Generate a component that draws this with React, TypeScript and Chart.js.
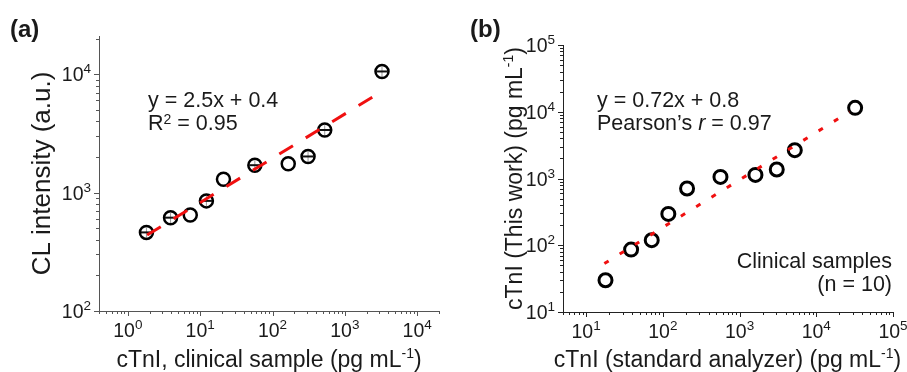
import { useEffect, useRef } from "react";
import { Chart, registerables } from "chart.js";

Chart.register(...registerables);

const FONT = '"Liberation Sans", Arial, Helvetica, sans-serif';

// ---------- Panel (a) data ----------
const aX = [1.81, 3.9, 7.3, 12.2, 21, 57, 165, 310, 527, 3260];
const aY = [461, 614, 647, 851, 1297, 1703, 1750, 2018, 3377, 10540];
const aErr = [0.1, 0.1, 0, 0.1, 0, 0.1, 0, 0.1, 0.1, 0.1];
const aFitX = [1.85, 3260];
const aFitY = [438, 7180];
const aXExp = [0, 1, 2, 3, 4];
const aYExp = [2, 3, 4];

// ---------- Panel (b) data ----------
const bX = [17.9, 38.6, 71.7, 118, 207, 564, 1611, 3055, 5250, 32100];
const bY = [29.9, 86, 119, 295, 708, 1057, 1132, 1364, 2656, 11440];
const bErr = [0, 0, 0, 0, 0, 0, 0, 0, 0, 0];
const bFitX = [17.3, 27100];
const bFitY = [53.2, 10000];
const bXExp = [1, 2, 3, 4, 5];
const bYExp = [1, 2, 3, 4, 5];

type Run = { t: string; font: string; dy?: number };
type TextItem = { runs: Run[]; x: number; y: number; align: "left" | "center" | "right"; rotate?: boolean };

const f = (px: number, style = "") => `${style}${px}px ${FONT}`;

function runsWidth(ctx: CanvasRenderingContext2D, runs: Run[]) {
  let w = 0;
  for (const r of runs) {
    ctx.font = r.font;
    w += ctx.measureText(r.t).width;
  }
  return w;
}

function drawRuns(ctx: CanvasRenderingContext2D, runs: Run[], x: number, y: number, align: string) {
  const w = runsWidth(ctx, runs);
  let cx = align === "center" ? x - w / 2 : align === "right" ? x - w : x;
  ctx.textAlign = "left";
  ctx.textBaseline = "alphabetic";
  for (const r of runs) {
    ctx.font = r.font;
    ctx.fillText(r.t, cx, y - (r.dy || 0));
    cx += ctx.measureText(r.t).width;
  }
}

interface Panel {
  xs: number[];
  ys: number[];
  err: number[];
  fitX: number[];
  fitY: number[];
  xExp: number[];
  yExp: number[];
  xMin: number;
  xMax: number;
  yMin: number;
  yMax: number;
  yAxisW: number;
  xAxisH: number;
  padTop: number;
  padRight: number;
  axisColor: string;
  markerBorder: number;
  dash: number[];
  texts: TextItem[];
}

const TXT = "#1a1a1a";

function makeConfig(p: Panel): any {
  const plugin = {
    id: "decor",
    beforeDatasetsDraw(chart: any) {
      const ctx: CanvasRenderingContext2D = chart.ctx;
      const xs = chart.scales.x;
      const ys = chart.scales.y;
      ctx.save();
      p.err.forEach((e, i) => {
        if (!e) return;
        const px = xs.getPixelForValue(p.xs[i]);
        const py = ys.getPixelForValue(p.ys[i]);
        const t = ys.getPixelForValue(p.ys[i] * (1 + e));
        const b = ys.getPixelForValue(p.ys[i] * (1 - e));
        ctx.strokeStyle = "#999";
        ctx.lineWidth = 1;
        ctx.beginPath();
        ctx.moveTo(px, t);
        ctx.lineTo(px, b);
        ctx.stroke();
        ctx.strokeStyle = "#111";
        ctx.lineWidth = 2;
        ctx.beginPath();
        ctx.moveTo(px - 5.5, py);
        ctx.lineTo(px + 5.5, py);
        ctx.stroke();
      });
      ctx.restore();
    },
    afterDraw(chart: any) {
      const ctx: CanvasRenderingContext2D = chart.ctx;
      const xs = chart.scales.x;
      const ys = chart.scales.y;
      const area = chart.chartArea;
      ctx.save();
      ctx.strokeStyle = p.axisColor;
      ctx.lineWidth = 1;
      // x ticks
      const ex0 = Math.floor(Math.log10(p.xMin));
      const ex1 = Math.ceil(Math.log10(p.xMax));
      for (let e = ex0; e <= ex1; e++) {
        for (let m = 1; m <= 9; m++) {
          const v = m * Math.pow(10, e);
          if (v < p.xMin * 0.999 || v > p.xMax * 1.001) continue;
          const px = Math.round(xs.getPixelForValue(v)) + 0.5;
          const len = m === 1 ? 5 : 3;
          ctx.beginPath();
          ctx.moveTo(px, area.bottom);
          ctx.lineTo(px, area.bottom + len);
          ctx.stroke();
        }
      }
      const ey0 = Math.floor(Math.log10(p.yMin));
      const ey1 = Math.ceil(Math.log10(p.yMax));
      for (let e = ey0; e <= ey1; e++) {
        for (let m = 1; m <= 9; m++) {
          const v = m * Math.pow(10, e);
          if (v < p.yMin * 0.999 || v > p.yMax * 1.001) continue;
          const py = Math.round(ys.getPixelForValue(v)) + 0.5;
          const len = m === 1 ? 5 : 3;
          ctx.beginPath();
          ctx.moveTo(area.left - len, py);
          ctx.lineTo(area.left, py);
          ctx.stroke();
        }
      }
      // tick labels
      ctx.fillStyle = TXT;
      for (const e of p.xExp) {
        const px = xs.getPixelForValue(Math.pow(10, e));
        drawRuns(
          ctx,
          [
            { t: "10", font: f(19.5) },
            { t: String(e), font: f(13.5), dy: 8 },
          ],
          px,
          area.bottom + 26,
          "center"
        );
      }
      for (const e of p.yExp) {
        const py = ys.getPixelForValue(Math.pow(10, e));
        drawRuns(
          ctx,
          [
            { t: "10", font: f(19.5) },
            { t: String(e), font: f(13.5), dy: 8 },
          ],
          area.left - 8,
          py + 7,
          "right"
        );
      }
      // texts
      for (const t of p.texts) {
        if (t.rotate) {
          ctx.save();
          ctx.translate(t.x, t.y);
          ctx.rotate(-Math.PI / 2);
          drawRuns(ctx, t.runs, 0, 0, t.align);
          ctx.restore();
        } else {
          drawRuns(ctx, t.runs, t.x, t.y, t.align);
        }
      }
      ctx.restore();
    },
  };

  return {
    type: "scatter",
    data: {
      datasets: [
        {
          type: "line",
          data: p.fitX.map((x, i) => ({ x, y: p.fitY[i] })),
          borderColor: "rgb(240,16,16)",
          borderWidth: 3,
          borderDash: p.dash,
          pointRadius: 0,
          fill: false,
          order: 0,
        },
        {
          type: "scatter",
          data: p.xs.map((x, i) => ({ x, y: p.ys[i] })),
          pointStyle: "circle",
          pointRadius: 6.5,
          borderColor: "#000",
          backgroundColor: "rgba(0,0,0,0)",
          borderWidth: p.markerBorder,
          order: 1,
        },
      ],
    },
    options: {
      animation: false,
      responsive: false,
      events: [],
      layout: { padding: { left: 0, top: p.padTop, right: p.padRight, bottom: 0 } },
      plugins: { legend: { display: false }, tooltip: { enabled: false } },
      scales: {
        x: {
          type: "logarithmic",
          min: p.xMin,
          max: p.xMax,
          grid: { display: false },
          border: { display: true, color: p.axisColor, width: 1 },
          ticks: { display: false },
          afterFit: (s: any) => {
            s.height = p.xAxisH;
          },
        },
        y: {
          type: "logarithmic",
          min: p.yMin,
          max: p.yMax,
          grid: { display: false },
          border: { display: true, color: p.axisColor, width: 1 },
          ticks: { display: false },
          afterFit: (s: any) => {
            s.width = p.yAxisW;
          },
        },
      },
    },
    plugins: [plugin],
  };
}

const panelA: Panel = {
  xs: aX,
  ys: aY,
  err: aErr,
  fitX: aFitX,
  fitY: aFitY,
  xExp: aXExp,
  yExp: aYExp,
  xMin: 0.4,
  xMax: 2e4,
  yMin: 100,
  yMax: 2.1e4,
  yAxisW: 99,
  xAxisH: 61,
  padTop: 36,
  padRight: 11,
  axisColor: "#555",
  markerBorder: 2.5,
  dash: [16, 15],
  texts: [
    { runs: [{ t: "(a)", font: f(24, "bold ") }], x: 10, y: 37, align: "left" },
    {
      runs: [{ t: "CL intensity (a.u.)", font: f(26) }],
      x: 50,
      y: 173.5,
      align: "center",
      rotate: true,
    },
    {
      runs: [
        { t: "cTnI, clinical sample (pg mL", font: f(23) },
        { t: "-1", font: f(14), dy: 9 },
        { t: ")", font: f(23) },
      ],
      x: 269,
      y: 367,
      align: "center",
    },
    { runs: [{ t: "y = 2.5x + 0.4", font: f(21.5) }], x: 148, y: 107, align: "left" },
    {
      runs: [
        { t: "R", font: f(21.5) },
        { t: "2", font: f(14), dy: 6 },
        { t: " = 0.95", font: f(21.5) },
      ],
      x: 148,
      y: 130,
      align: "left",
    },
  ],
};

const panelB: Panel = {
  xs: bX,
  ys: bY,
  err: bErr,
  fitX: bFitX,
  fitY: bFitY,
  xExp: bXExp,
  yExp: bYExp,
  xMin: 5,
  xMax: 1e5,
  yMin: 10,
  yMax: 1e5,
  yAxisW: 113,
  xAxisH: 60,
  padTop: 45,
  padRight: 14,
  axisColor: "#222",
  markerBorder: 3,
  dash: [5, 13],
  texts: [
    { runs: [{ t: "(b)", font: f(24, "bold ") }], x: 20, y: 37, align: "left" },
    {
      runs: [
        { t: "cTnI (This work) (pg mL", font: f(23) },
        { t: "-1", font: f(14), dy: 9 },
        { t: ")", font: f(23) },
      ],
      x: 72,
      y: 178.5,
      align: "center",
      rotate: true,
    },
    {
      runs: [
        { t: "cTnI (standard analyzer) (pg mL", font: f(23) },
        { t: "-1", font: f(14), dy: 9 },
        { t: ")", font: f(23) },
      ],
      x: 277.5,
      y: 367,
      align: "center",
    },
    { runs: [{ t: "y = 0.72x + 0.8", font: f(21.5) }], x: 147, y: 107, align: "left" },
    {
      runs: [
        { t: "Pearson\u2019s ", font: f(21.5) },
        { t: "r", font: f(21.5, "italic ") },
        { t: " = 0.97", font: f(21.5) },
      ],
      x: 147,
      y: 130,
      align: "left",
    },
    { runs: [{ t: "Clinical samples", font: f(21.5) }], x: 442, y: 268, align: "right" },
    { runs: [{ t: "(n = 10)", font: f(21.5) }], x: 442, y: 291, align: "right" },
  ],
};

function Panel({ cfg, left, width }: { cfg: Panel; left: number; width: number }) {
  const ref = useRef<HTMLCanvasElement>(null);
  useEffect(() => {
    if (!ref.current) return;
    const chart = new Chart(ref.current, makeConfig(cfg));
    return () => chart.destroy();
  }, [cfg]);
  return (
    <canvas
      ref={ref}
      width={width}
      height={372}
      style={{ position: "absolute", left, top: 0, width, height: 372 }}
    />
  );
}

export default function App() {
  return (
    <div
      style={{
        position: "absolute",
        left: 0,
        top: 0,
        width: 907,
        height: 372,
        background: "#fff",
        overflow: "hidden",
      }}
    >
      <Panel cfg={panelA} left={0} width={450} />
      <Panel cfg={panelB} left={450} width={457} />
    </div>
  );
}
